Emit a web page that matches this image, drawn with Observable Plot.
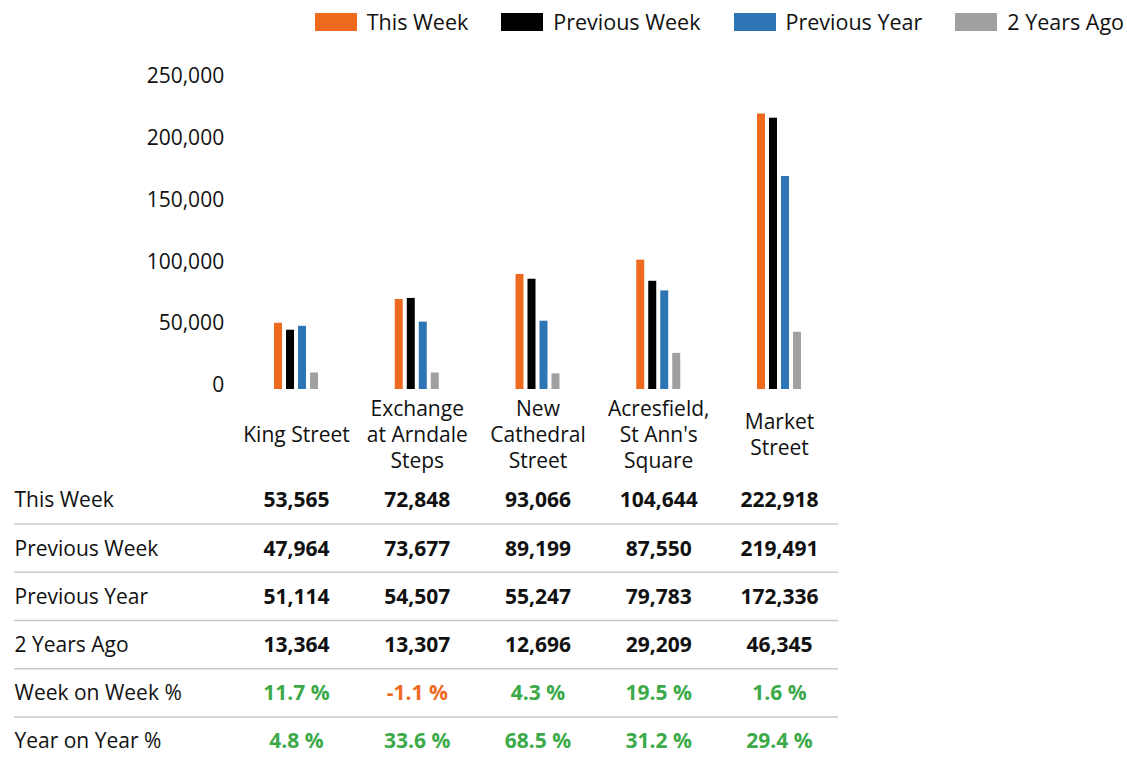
<!DOCTYPE html>
<html>
<head>
<meta charset="utf-8">
<script src="https://cdn.jsdelivr.net/npm/d3@7"></script>
<script src="https://cdn.jsdelivr.net/npm/@observablehq/plot@0.6"></script>
<style>
  html, body { margin: 0; padding: 0; background: #fff; }
  body { font-family: "Open Sans", Lato, sans-serif; color: #111; }
  #root { position: relative; width: 1127px; height: 762px; overflow: hidden; }
  #legend { position: absolute; top: 7px; right: 3px; display: flex; align-items: center; font-size: 21.5px; }
  .item { display: flex; align-items: center; margin-left: 33px; }
  .sw { width: 42px; height: 18px; margin-right: 10px; }
  #chart { position: absolute; left: 0; top: 0; }
  #table { position: absolute; left: 0; top: 476px; }
</style>
</head>
<body>
<div id="root">
  <div id="chart"></div>
  <div id="table"></div>
  <div id="legend"></div>
</div>
<script>
const categories = ["King Street", "Exchange at Arndale Steps", "New Cathedral Street", "Acresfield, St Ann's Square", "Market Street"];
const categoryLabels = ["King Street", "Exchange\nat Arndale\nSteps", "New\nCathedral\nStreet", "Acresfield,\nSt Ann's\nSquare", "Market\nStreet"];
const series = ["This Week", "Previous Week", "Previous Year", "2 Years Ago"];
const seriesColors = ["#EE6A1F", "#000000", "#2E75B6", "#A0A0A0"];
const thisWeek = [53565, 72848, 93066, 104644, 222918];
const previousWeek = [47964, 73677, 89199, 87550, 219491];
const previousYear = [51114, 54507, 55247, 79783, 172336];
const twoYearsAgo = [13364, 13307, 12696, 29209, 46345];
const weekOnWeek = [11.7, -1.1, 4.3, 19.5, 1.6];
const yearOnYear = [4.8, 33.6, 68.5, 31.2, 29.4];
const yTicks = [0, 50000, 100000, 150000, 200000, 250000];
const rowLabels = ["This Week", "Previous Week", "Previous Year", "2 Years Ago", "Week on Week %", "Year on Year %"];

const font = "'Open Sans', Lato, sans-serif";
const green = "#3DAA4A";
const orange = "#EE6A1F";

// Bar data
const seriesValues = [thisWeek, previousWeek, previousYear, twoYearsAgo];
const bars = [];
categories.forEach((c, i) => series.forEach((s, j) => bars.push({cat: c, series: s, value: seriesValues[j][i]})));

const chartLeft = 235.65, chartRight = 1127 - 839.35;

const chart = Plot.plot({
  width: 1127,
  height: 478,
  marginTop: 80,
  marginBottom: 89,
  marginLeft: chartLeft,
  marginRight: chartRight,
  style: {fontFamily: font, fontSize: "21px", background: "transparent", color: "#111"},
  fx: {domain: categories, padding: 0, round: false, axis: null, label: null},
  x: {type: "band", domain: series, paddingInner: 1/3, paddingOuter: 3.2, round: false, axis: null},
  y: {domain: [0, 250000], label: null},
  color: {domain: series, range: seriesColors},
  marks: [
    Plot.axisY({ticks: yTicks, tickSize: 0, tickPadding: 12, tickFormat: d3.format(","), dy: -4, fontSize: 21, label: null}),
    Plot.barY(bars, {fx: "cat", x: "series", y: "value", fill: "series"}),
    Plot.text(categories, {fx: d => d, text: (d, i) => categoryLabels[i], frameAnchor: "bottom", dy: 44, lineAnchor: "middle", lineHeight: 1.24, fontSize: 21, fill: "#111"})
  ]
});
document.getElementById("chart").appendChild(chart);

// Legend
const legend = document.getElementById("legend");
series.forEach((s, j) => {
  const it = document.createElement("div");
  it.className = "item";
  const sw = document.createElement("div");
  sw.className = "sw";
  sw.style.background = seriesColors[j];
  const t = document.createElement("span");
  t.textContent = s;
  it.appendChild(sw); it.appendChild(t);
  legend.appendChild(it);
});

// Table data
const fmt = d3.format(",");
const cells = [];
const numRows = [thisWeek, previousWeek, previousYear, twoYearsAgo];
numRows.forEach((arr, r) => categories.forEach((c, i) => cells.push({row: rowLabels[r], cat: c, value: arr[i], text: fmt(arr[i]), kind: "num"})));
[weekOnWeek, yearOnYear].forEach((arr, k) => categories.forEach((c, i) => cells.push({row: rowLabels[4 + k], cat: c, value: arr[i], text: arr[i].toFixed(1) + " %", kind: "pct"})));

const table = Plot.plot({
  width: 1127,
  height: 290,
  marginLeft: 14,
  marginRight: 289,
  marginTop: 0,
  marginBottom: 0,
  style: {fontFamily: font, fontSize: "21px", background: "transparent", color: "#111"},
  x: {type: "band", domain: categories, range: [chartLeft, 1127 - chartRight], padding: 0, round: false, axis: null},
  y: {type: "band", domain: rowLabels, range: [0, 289.2], padding: 0, round: false, axis: null},
  marks: [
    Plot.ruleY(rowLabels.slice(0, 5), {y: d => d, dy: 23.5, stroke: "#C8C8C8", strokeWidth: 1.5}),
    Plot.text(rowLabels, {y: d => d, text: d => d, frameAnchor: "left", textAnchor: "start", fontSize: 21, fill: "#111"}),
    Plot.text(cells, {filter: d => d.kind === "num", x: "cat", y: "row", text: "text", fontSize: 21, fontWeight: "bold", fill: "#111"}),
    Plot.text(cells, {filter: d => d.kind === "pct" && d.value >= 0, x: "cat", y: "row", text: "text", fontSize: 21, fontWeight: "bold", fill: green}),
    Plot.text(cells, {filter: d => d.kind === "pct" && d.value < 0, x: "cat", y: "row", text: "text", fontSize: 21, fontWeight: "bold", fill: orange})
  ]
});
document.getElementById("table").appendChild(table);
</script>
</body>
</html>
